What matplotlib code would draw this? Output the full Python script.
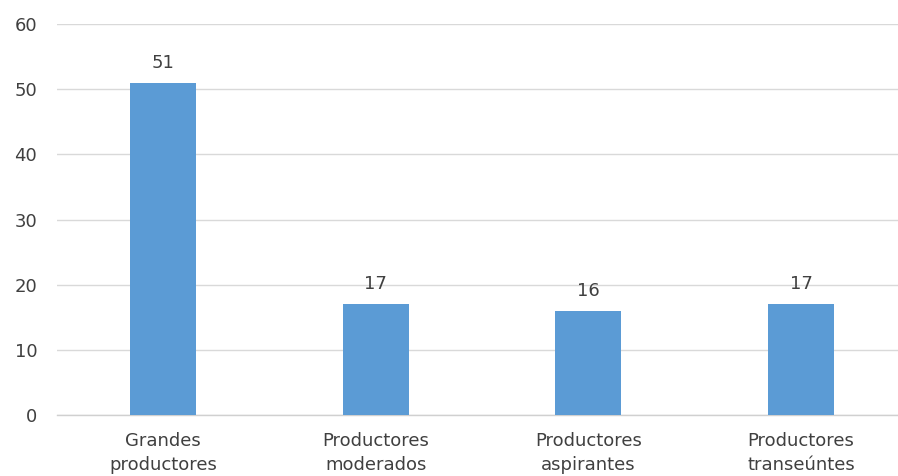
import matplotlib.pyplot as plt

categories = ['Grandes\nproductores', 'Productores\nmoderados', 'Productores\naspirantes', 'Productores\ntranseúntes']
values = [51, 17, 16, 17]
y_ticks = [0, 10, 20, 30, 40, 50, 60]

plt.rcParams['font.family'] = ['DejaVu Sans']
fig = plt.figure(figsize=(8.98, 4.76), dpi=100)
ax = fig.add_axes([0.0631, 0.128, 0.9473, 0.8214])

x = list(range(len(categories)))
bars = ax.bar(x, values, width=0.31, color='#5b9bd5', zorder=3)

for xi, v in zip(x, values):
    ax.annotate(str(v), (xi, v), xytext=(0, 8), textcoords='offset points',
                ha='center', va='bottom', fontsize=13, color='#404040')

ax.set_xlim(-0.5, 3.5)
ax.set_ylim(0, 60)
ax.set_yticks(y_ticks)
ax.set_xticks(x)
ax.set_xticklabels(categories, fontsize=13, color='#404040', linespacing=1.45)
ax.tick_params(axis='y', length=0, pad=14, labelsize=13, labelcolor='#404040')
ax.tick_params(axis='x', length=0, pad=12)
ax.grid(axis='y', color='#d9d9d9', lw=1, zorder=0)

for s in ['top', 'right', 'left']:
    ax.spines[s].set_visible(False)
ax.spines['bottom'].set_color('#d0d0d0')
ax.spines['bottom'].set_linewidth(1)

fig.savefig('out.png', dpi=100)
